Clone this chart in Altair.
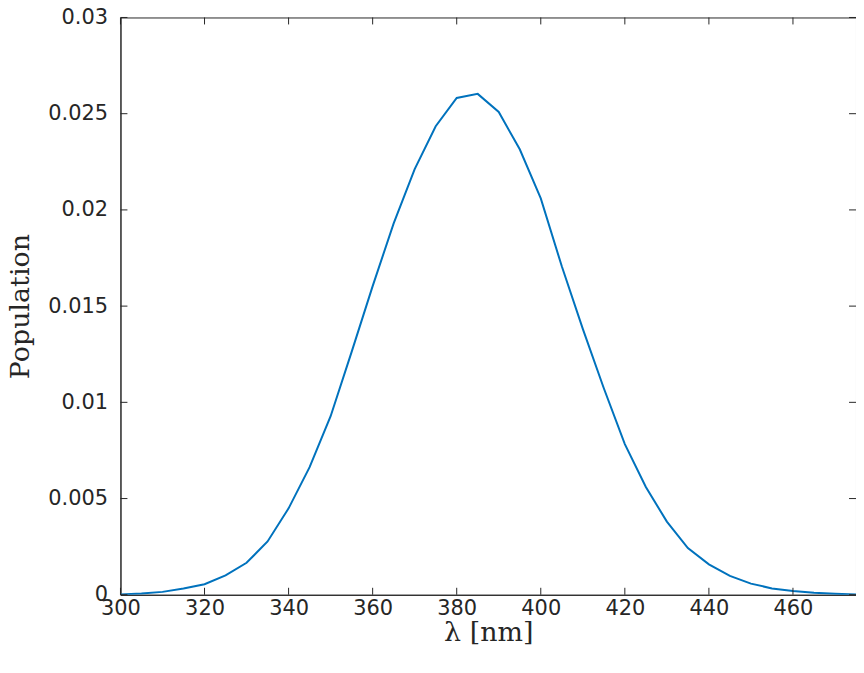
import altair as alt
import pandas as pd

wavelength = [300, 305, 310, 315, 320, 325, 330, 335, 340, 345, 350, 355,
              360, 365, 370, 375, 380, 385, 390, 395, 400, 405, 410, 415,
              420, 425, 430, 435, 440, 445, 450, 455, 460, 465, 470, 475]
population = [0.00002, 0.00007, 0.00015, 0.00033, 0.00055, 0.00101, 0.00166,
              0.00277, 0.00449, 0.00663, 0.00928, 0.01262, 0.01604, 0.01930,
              0.02212, 0.02435, 0.02582, 0.02603, 0.02509, 0.02315, 0.02060,
              0.01707, 0.01382, 0.01073, 0.00783, 0.00560, 0.00380, 0.00243,
              0.00158, 0.00098, 0.00058, 0.00033, 0.00019, 0.00010, 0.00005,
              0.00002]
x_ticks = [300, 320, 340, 360, 380, 400, 420, 440, 460]
y_ticks = [0, 0.005, 0.01, 0.015, 0.02, 0.025, 0.03]

W, H = 739, 580
INK = "#262626"
TICK = 7

df = pd.DataFrame({"wl": wavelength, "pop": population})
xt = pd.DataFrame({"t": x_ticks})
yt = pd.DataFrame({"t": y_ticks})

xscale = alt.Scale(domain=[300, 475], nice=False, zero=False)
yscale = alt.Scale(domain=[0, 0.03], nice=False)

line = alt.Chart(df).mark_line(color="#0072BD", strokeWidth=2, clip=True).encode(
    x=alt.X("wl:Q", scale=xscale,
            axis=alt.Axis(values=x_ticks, title="λ [nm]", tickSize=0, labelPadding=3,
                          labelFont="DejaVu Sans", labelFontSize=21, labelColor=INK,
                          titleFont="DejaVu Serif", titleFontSize=27, titleColor=INK,
                          titleFontWeight="normal", titleY=38, titleBaseline="middle",
                          domainColor=INK, grid=False, labelFlush=False)),
    y=alt.Y("pop:Q", scale=yscale,
            axis=alt.Axis(values=y_ticks, format="~g", title="Population", tickSize=0,
                          labelPadding=13, labelFont="DejaVu Sans", labelFontSize=21,
                          labelColor=INK, titleFont="DejaVu Serif", titleFontSize=27,
                          titleColor=INK, titleFontWeight="normal", titleX=-100,
                          titleY=H / 2, titleAngle=270, titleAlign="center",
                          titleBaseline="middle",
                          domainColor=INK, grid=False, labelFlush=False)),
)

xb = alt.Chart(xt).mark_rule(color=INK, strokeWidth=1).encode(
    x=alt.X("t:Q", scale=xscale), y=alt.value(H), y2=alt.value(H - TICK))
xtop = alt.Chart(xt).mark_rule(color=INK, strokeWidth=1).encode(
    x=alt.X("t:Q", scale=xscale), y=alt.value(0), y2=alt.value(TICK))
yl = alt.Chart(yt).mark_rule(color=INK, strokeWidth=1).encode(
    y=alt.Y("t:Q", scale=yscale), x=alt.value(0), x2=alt.value(TICK))
yr = alt.Chart(yt).mark_rule(color=INK, strokeWidth=1).encode(
    y=alt.Y("t:Q", scale=yscale), x=alt.value(W), x2=alt.value(W - TICK))

chart = alt.layer(line, xb, xtop, yl, yr).properties(
    width=W, height=H,
    background="white",
    autosize=alt.AutoSizeParams(type="none"),
    padding={"left": 113, "top": 8, "right": 0, "bottom": 60},
).configure_view(stroke=INK, strokeWidth=1)

chart.save("out.html", embed_options={"renderer": "svg", "actions": False})
